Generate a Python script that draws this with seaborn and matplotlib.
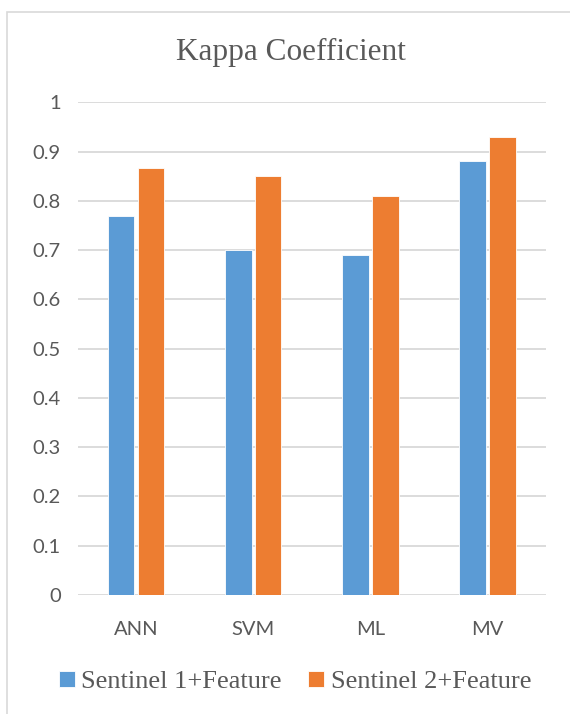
import matplotlib
matplotlib.use("Agg")
import matplotlib.pyplot as plt
import seaborn as sns
import pandas as pd
from matplotlib.patches import Rectangle

# Kappa coefficient per classifier
classifiers = ["ANN", "SVM", "ML", "MV"]
sentinel1 = [0.77, 0.70, 0.69, 0.882]
sentinel2 = [0.867, 0.85, 0.81, 0.93]
series_names = ["Sentinel 1+Feature", "Sentinel 2+Feature"]
yticks = [0, 0.1, 0.2, 0.3, 0.4, 0.5, 0.6, 0.7, 0.8, 0.9, 1]
ytick_labels = ["0", "0.1", "0.2", "0.3", "0.4", "0.5", "0.6", "0.7", "0.8", "0.9", "1"]

df = pd.DataFrame({
    "Classifier": classifiers * 2,
    "Kappa": sentinel1 + sentinel2,
    "Series": [series_names[0]] * len(classifiers) + [series_names[1]] * len(classifiers),
})

sns.set_style("white")
W, H = 570, 714
fig = plt.figure(figsize=(W / 100, H / 100), dpi=100)

# chart frame (runs off the right and bottom edges)
fig.patches.append(Rectangle((7 / W, -0.1), 1.0, 1.1 - 12 / H, transform=fig.transFigure,
                             fill=False, edgecolor="#D9D9D9", linewidth=1.2))

ax = fig.add_axes([77.5 / W, 1 - 595 / H, (546 - 77.5) / W, (595 - 102.4) / H])
palette = {series_names[0]: "#5B9BD5", series_names[1]: "#ED7D31"}
sns.barplot(data=df, x="Classifier", y="Kappa", hue="Series", palette=palette,
            width=0.51, gap=0.11, saturation=1, ax=ax, edgecolor="white", linewidth=0.6,
            zorder=3)

ax.set_ylim(0, 1)
ax.set_xlim(-0.5, 3.5)
ax.set_yticks(yticks)
ax.set_yticklabels(ytick_labels)
ax.grid(axis="y", color="#D9D9D9", linewidth=1.3, zorder=0)
ax.set_axisbelow(True)
for s in ax.spines.values():
    s.set_visible(False)
ax.set_xlabel("")
ax.set_ylabel("")
ax.tick_params(axis="both", length=0, labelsize=14.5, labelcolor="#595959")
ax.tick_params(axis="y", pad=12)
ax.tick_params(axis="x", pad=19)
for lab in ax.get_xticklabels() + ax.get_yticklabels():
    lab.set_fontfamily("Lato")

fig.text(291 / W, 1 - 52 / H, "Kappa Coefficient", ha="center", va="center",
         fontsize=22.5, color="#595959", family="Liberation Serif")

handles, labels = ax.get_legend_handles_labels()
ax.legend_.remove()
fig.legend(handles, labels, loc="center", bbox_to_anchor=(295 / W, 1 - 682 / H), ncol=2,
           frameon=False, prop={"family": "Liberation Serif", "size": 19},
           labelcolor="#595959", handlelength=0.6, handleheight=0.6,
           handletextpad=0.25, columnspacing=1.0, borderaxespad=0)

fig.savefig("out.png", dpi=100)
